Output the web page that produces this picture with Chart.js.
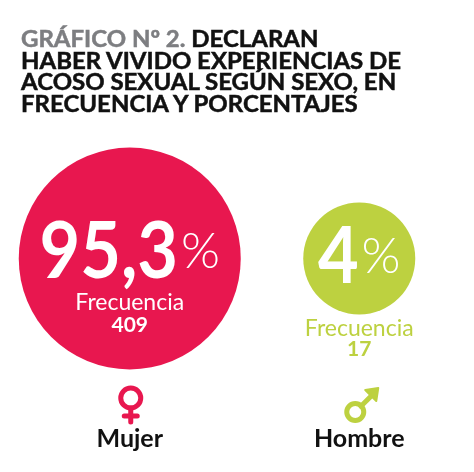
<!doctype html>
<html>

<head>
    <title>Gráfico Nº 2</title>
    <script src="https://cdn.jsdelivr.net/npm/chart.js"></script>
    <style>
        html, body { margin: 0; padding: 0; background: #fff; overflow: hidden; }
        #wrap { position: relative; width: 474px; height: 472px; }
        #grafico { position: absolute; left: 0; top: 0; width: 474px; height: 472px; }
        #titulo {
            position: absolute; left: 21px; top: 28px; margin: 0;
            font-family: Lato, "Open Sans", sans-serif; font-weight: 700;
            font-size: 23px; line-height: 21.7px; color: #111;
            white-space: nowrap;
            transform: scaleX(1.043); transform-origin: 0 0;
            -webkit-text-stroke: 0.5px currentColor;
        }
        #titulo .gris { color: #7d7e81; }
    </style>
</head>

<body>
    <div id="wrap">
        <canvas id="grafico" width="474" height="472"></canvas>
        <h1 id="titulo"><span class="gris">GRÁFICO Nº 2.</span> DECLARAN<br>HABER VIVIDO EXPERIENCIAS DE<br>ACOSO SEXUAL SEGÚN SEXO, EN<br>FRECUENCIA Y PORCENTAJES</h1>
    </div>

    <script>
        // datos del gráfico
        var categorias = ['Mujer', 'Hombre'];
        var porcentajes = [95.3, 4];
        var frecuencias = [409, 17];
        var etiquetaFrecuencia = 'Frecuencia';

        // estilos (no son datos)
        var colores = ['#E8174F', '#BDD140'];
        var radios = [111, 56];
        var colorTexto = ['#ffffff', '#BDD140'];
        // desplazamientos verticales de los textos respecto al centro del círculo
        var despl = [
            { num: 19, pct: 9, frec: 51, valor: 73 },
            { num: 24, pct: 14, frec: 77, valor: 97 }
        ];

        var fuente = 'Lato, "Open Sans", sans-serif';
        var estrecho = 0.9; // compresión horizontal de las cifras grandes

        function formatear(v) {
            return String(v).replace('.', ',');
        }

        var textosCirculos = {
            id: 'textosCirculos',
            afterDatasetsDraw(chart) {
                var ctx = chart.ctx;
                var meta = chart.getDatasetMeta(0);
                var escalaX = chart.scales.x;
                meta.data.forEach((punto, i) => {
                    var cx = punto.x, cy = punto.y;
                    ctx.save();
                    ctx.fillStyle = '#ffffff';
                    ctx.textBaseline = 'alphabetic';
                    ctx.textAlign = 'left';

                    // porcentaje grande + signo %
                    var num = formatear(porcentajes[i]);
                    ctx.font = '700 78px ' + fuente;
                    var w1 = ctx.measureText(num).width * estrecho;
                    ctx.font = '300 50px ' + fuente;
                    var w2 = ctx.measureText('%').width;
                    var x0 = cx - (w1 + 3 + w2) / 2;
                    ctx.save();
                    ctx.translate(x0, cy + despl[i].num);
                    ctx.scale(estrecho, 1);
                    ctx.font = '700 78px ' + fuente;
                    ctx.fillText(num, 0, 0);
                    ctx.restore();
                    ctx.font = '300 50px ' + fuente;
                    ctx.fillText('%', x0 + w1 + 3, cy + despl[i].pct);

                    // frecuencia
                    ctx.textAlign = 'center';
                    ctx.fillStyle = colorTexto[i];
                    ctx.font = '400 23px ' + fuente;
                    ctx.fillText(etiquetaFrecuencia, cx, cy + despl[i].frec);
                    ctx.font = '700 21px ' + fuente;
                    ctx.fillText(String(frecuencias[i]), cx, cy + despl[i].valor);
                    ctx.restore();
                });

                // símbolos de sexo sobre las etiquetas del eje
                var base = chart.chartArea.bottom;
                ctx.save();
                ctx.lineWidth = 5;
                ctx.lineCap = 'round';

                // femenino
                var fx = escalaX.getPixelForValue(0) + 1;
                ctx.strokeStyle = colores[0];
                ctx.beginPath();
                ctx.arc(fx, base - 23, 10, 0, Math.PI * 2);
                ctx.stroke();
                ctx.beginPath();
                ctx.moveTo(fx, base - 13);
                ctx.lineTo(fx, base + 1);
                ctx.moveTo(fx - 6.5, base - 5);
                ctx.lineTo(fx + 6.5, base - 5);
                ctx.stroke();

                // masculino
                var mx = escalaX.getPixelForValue(1) - 4;
                var my = base - 9;
                ctx.strokeStyle = colores[1];
                ctx.fillStyle = colores[1];
                ctx.beginPath();
                ctx.arc(mx, my, 8.5, 0, Math.PI * 2);
                ctx.stroke();
                var d = Math.SQRT1_2;
                ctx.beginPath();
                ctx.moveTo(mx + 8 * d, my - 8 * d);
                ctx.lineTo(mx + 18, my - 18);
                ctx.stroke();
                ctx.beginPath();
                ctx.moveTo(mx + 23, my - 24);
                ctx.lineTo(mx + 10, my - 22);
                ctx.lineTo(mx + 21, my - 11);
                ctx.closePath();
                ctx.fill();
                ctx.lineWidth = 2;
                ctx.lineJoin = 'round';
                ctx.strokeStyle = colores[1];
                ctx.stroke();
                ctx.restore();
            }
        };

        var grafico = new Chart(document.getElementById('grafico').getContext('2d'), {
            type: 'bubble',
            data: {
                labels: categorias,
                datasets: [{
                    label: 'Acoso sexual (%)',
                    data: categorias.map((c, i) => ({ x: c, y: 0, valor: porcentajes[i] })),
                    backgroundColor: colores,
                    borderWidth: 0,
                    radius: (ctx) => radios[ctx.dataIndex],
                    clip: false
                }]
            },
            options: {
                responsive: false,
                animation: false,
                events: [],
                layout: {
                    autoPadding: false,
                    padding: { top: 96, left: 15, right: 0, bottom: 15 }
                },
                plugins: {
                    legend: { display: false },
                    tooltip: { enabled: false },
                    title: { display: false }
                },
                scales: {
                    x: {
                        type: 'category',
                        labels: categorias,
                        offset: true,
                        grid: { display: false, drawTicks: false },
                        border: { display: false },
                        ticks: {
                            color: '#111',
                            padding: 3,
                            font: { family: fuente, size: 25, weight: '700' }
                        }
                    },
                    y: {
                        display: false,
                        min: -1,
                        max: 1
                    }
                }
            },
            plugins: [textosCirculos]
        });
    </script>
</body>

</html>
